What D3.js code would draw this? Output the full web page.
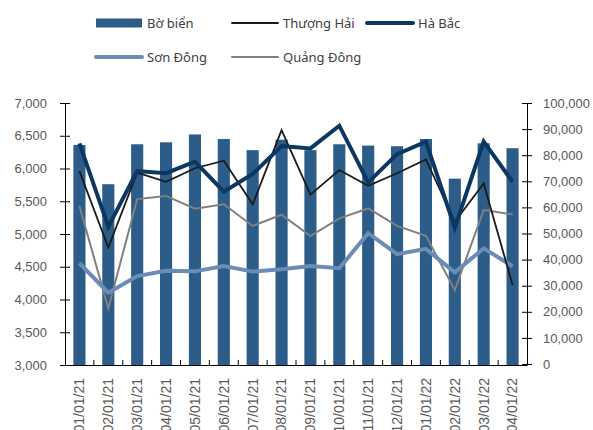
<!DOCTYPE html>
<html>
<head>
<meta charset="utf-8">
<script src="https://cdn.jsdelivr.net/npm/d3@7"></script>
<style>
  body { margin: 0; background: #fff; }
  svg { display: block; font-family: "Noto Sans", "Open Sans", sans-serif; }
  .tick text { fill: #595959; font-size: 13px; }
  .xaxis .tick text { font-size: 14px; }
  .legend text { fill: #404040; font-size: 13px; }
</style>
</head>
<body>
<svg id="chart" width="593" height="430"></svg>
<script>
// data
var months = ['01/01/21', '02/01/21', '03/01/21', '04/01/21', '05/01/21', '06/01/21',
              '07/01/21', '08/01/21', '09/01/21', '10/01/21', '11/01/21', '12/01/21',
              '01/01/22', '02/01/22', '03/01/22', '04/01/22'];
var boBien = [6360, 5760, 6370, 6400, 6520, 6450, 6280, 6440, 6280, 6370, 6350, 6340, 6450, 5845, 6385, 6310];
var thuongHai = [73900, 44600, 73300, 69800, 75000, 77900, 61200, 89600, 64900, 74300, 68300, 73100, 78400, 54500, 69200, 30300];
var haBac = [84500, 52600, 73900, 73100, 77500, 66000, 72800, 83500, 82600, 91300, 69600, 80400, 85200, 52200, 85200, 69800];
var sonDong = [38600, 27300, 33700, 35700, 35500, 37500, 35400, 36300, 37500, 36700, 50100, 42100, 44100, 35100, 44300, 37500];
var quangDong = [60500, 21300, 63200, 64400, 59500, 61200, 52900, 57200, 49000, 55800, 59600, 52900, 49100, 28300, 59000, 57300];
var leftTicks = [3000, 3500, 4000, 4500, 5000, 5500, 6000, 6500, 7000];
var rightTicks = [0, 10000, 20000, 30000, 40000, 50000, 60000, 70000, 80000, 90000, 100000];

var svg = d3.select('#chart'),
    plotL = 65, plotR = 527, plotT = 103, plotB = 365;

var x = d3.scaleBand().domain(months).range([plotL, plotR]).paddingInner(0.58).paddingOuter(0.29);
var yL = d3.scaleLinear().domain([3000, 7000]).range([plotB, plotT]);
var yR = d3.scaleLinear().domain([0, 100000]).range([plotB - 1, plotT]);
var fmt = d3.format(',');

// bars
svg.append('g').selectAll('rect')
    .data(boBien)
    .enter().append('rect')
    .attr('x', function (d, i) { return x(months[i]); })
    .attr('width', x.bandwidth())
    .attr('y', function (d) { return yL(d); })
    .attr('height', function (d) { return plotB - yL(d); })
    .style('fill', '#2c5d89');

// lines
var series = [
    { values: quangDong, color: '#808080', width: 2 },
    { values: sonDong, color: '#6a8cb7', width: 4 },
    { values: thuongHai, color: '#1a1a1a', width: 1.8 },
    { values: haBac, color: '#0d3763', width: 4 }
];
var line = d3.line()
    .x(function (d, i) { return x(months[i]) + x.bandwidth() / 2; })
    .y(function (d) { return yR(d); });

series.forEach(function (s) {
    svg.append('path')
        .datum(s.values)
        .attr('d', line)
        .style('fill', 'none')
        .style('stroke', s.color)
        .style('stroke-width', s.width)
        .style('stroke-linejoin', 'miter');
});

// axes
var axL = svg.append('g')
    .attr('transform', 'translate(' + plotL + ',0)')
    .call(d3.axisLeft(yL).tickValues(leftTicks).tickFormat(fmt).tickSizeInner(5).tickSizeOuter(0).tickPadding(13));
axL.selectAll('.tick line').attr('x2', 5).attr('x1', -5);

var axR = svg.append('g')
    .attr('transform', 'translate(' + plotR + ',0)')
    .call(d3.axisRight(yR).tickValues(rightTicks).tickFormat(fmt).tickSizeInner(5).tickSizeOuter(0).tickPadding(11));
axR.selectAll('.tick line').attr('x1', -5).attr('x2', 5);

var axB = svg.append('g')
    .attr('class', 'xaxis')
    .attr('transform', 'translate(0,' + plotB + ')')
    .call(d3.axisBottom(x).tickSize(0).tickSizeOuter(0).tickPadding(0));
axB.selectAll('.tick text')
    .attr('transform', 'rotate(-90)')
    .attr('x', -13)
    .attr('y', 0)
    .attr('dy', '0.35em')
    .style('text-anchor', 'end');

// category separators, pointing up
axB.selectAll('.sep')
    .data(months.slice(1))
    .enter().append('line')
    .attr('x1', function (d) { return x(d) - x.step() * x.paddingInner() / 2; })
    .attr('x2', function (d) { return x(d) - x.step() * x.paddingInner() / 2; })
    .attr('y1', 0).attr('y2', -5)
    .style('stroke', '#000');

svg.selectAll('.domain').style('stroke', '#000');
svg.selectAll('.tick line').style('stroke', '#000');

// legend
var legend = [
    { name: 'Bờ biển', type: 'bar', color: '#2c5d89', x: 96, y: 23 },
    { name: 'Thượng Hải', type: 'line', color: '#1a1a1a', width: 1.8, x: 232, y: 23 },
    { name: 'Hà Bắc', type: 'line', color: '#0d3763', width: 4, x: 367, y: 23 },
    { name: 'Sơn Đông', type: 'line', color: '#6a8cb7', width: 4, x: 96, y: 57 },
    { name: 'Quảng Đông', type: 'line', color: '#808080', width: 2, x: 232, y: 57 }
];
var lg = svg.append('g').attr('class', 'legend');
legend.forEach(function (l) {
    if (l.type === 'bar') {
        lg.append('rect').attr('x', l.x).attr('y', l.y - 4.5).attr('width', 46).attr('height', 9)
            .style('fill', l.color);
    } else {
        lg.append('line').attr('x1', l.x).attr('x2', l.x + 46).attr('y1', l.y).attr('y2', l.y)
            .style('stroke', l.color).style('stroke-width', l.width).style('stroke-linecap', 'round');
    }
    lg.append('text').attr('x', l.x + 51).attr('y', l.y).attr('dy', '0.35em').text(l.name);
});
</script>
</body>
</html>
